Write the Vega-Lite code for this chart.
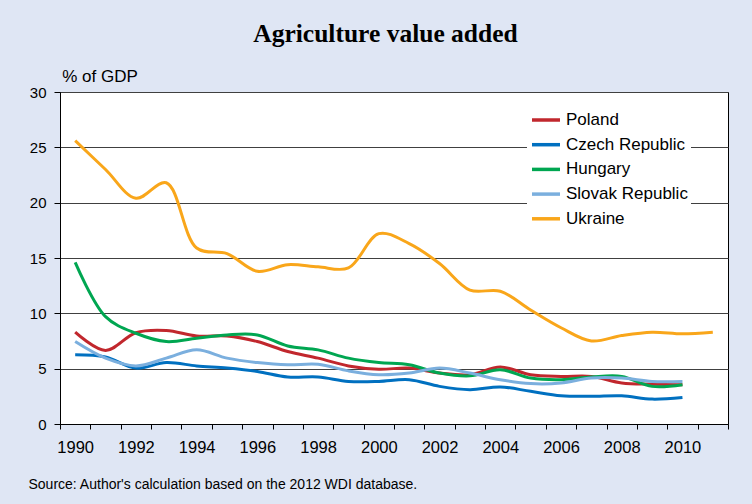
{
  "$schema": "https://vega.github.io/schema/vega-lite/v6.json",
  "autosize": "none",
  "width": 668,
  "height": 332,
  "padding": {"left": 60, "top": 92, "right": 24, "bottom": 80},
  "background": "#dfe6f4",
  "title": {
    "text": "Agriculture value added",
    "font": "Liberation Serif",
    "fontSize": 25.5,
    "fontWeight": "bold",
    "color": "#000000",
    "anchor": "middle",
    "frame": "group",
    "dx": -8.5,
    "offset": 20
  },
  "config": {
    "view": {"stroke": "#000000", "strokeWidth": 1, "fill": "#ffffff"},
    "font": "Liberation Sans"
  },
  "data": {
    "values": [
      {"year": 1990, "country": "Poland", "v": 8.3},
      {"year": 1991, "country": "Poland", "v": 6.65},
      {"year": 1992, "country": "Poland", "v": 8.25},
      {"year": 1993, "country": "Poland", "v": 8.45},
      {"year": 1994, "country": "Poland", "v": 7.95},
      {"year": 1995, "country": "Poland", "v": 7.95},
      {"year": 1996, "country": "Poland", "v": 7.45},
      {"year": 1997, "country": "Poland", "v": 6.55},
      {"year": 1998, "country": "Poland", "v": 5.95},
      {"year": 1999, "country": "Poland", "v": 5.25},
      {"year": 2000, "country": "Poland", "v": 4.95},
      {"year": 2001, "country": "Poland", "v": 5.05},
      {"year": 2002, "country": "Poland", "v": 4.6},
      {"year": 2003, "country": "Poland", "v": 4.45},
      {"year": 2004, "country": "Poland", "v": 5.15},
      {"year": 2005, "country": "Poland", "v": 4.45},
      {"year": 2006, "country": "Poland", "v": 4.3},
      {"year": 2007, "country": "Poland", "v": 4.3},
      {"year": 2008, "country": "Poland", "v": 3.7},
      {"year": 2009, "country": "Poland", "v": 3.6},
      {"year": 2010, "country": "Poland", "v": 3.55},

      {"year": 1990, "country": "Czech Republic", "v": 6.25},
      {"year": 1991, "country": "Czech Republic", "v": 6.05},
      {"year": 1992, "country": "Czech Republic", "v": 5.05},
      {"year": 1993, "country": "Czech Republic", "v": 5.55},
      {"year": 1994, "country": "Czech Republic", "v": 5.25},
      {"year": 1995, "country": "Czech Republic", "v": 5.05},
      {"year": 1996, "country": "Czech Republic", "v": 4.75},
      {"year": 1997, "country": "Czech Republic", "v": 4.25},
      {"year": 1998, "country": "Czech Republic", "v": 4.25},
      {"year": 1999, "country": "Czech Republic", "v": 3.85},
      {"year": 2000, "country": "Czech Republic", "v": 3.85},
      {"year": 2001, "country": "Czech Republic", "v": 4.0},
      {"year": 2002, "country": "Czech Republic", "v": 3.4},
      {"year": 2003, "country": "Czech Republic", "v": 3.1},
      {"year": 2004, "country": "Czech Republic", "v": 3.35},
      {"year": 2005, "country": "Czech Republic", "v": 2.95},
      {"year": 2006, "country": "Czech Republic", "v": 2.55},
      {"year": 2007, "country": "Czech Republic", "v": 2.5},
      {"year": 2008, "country": "Czech Republic", "v": 2.55},
      {"year": 2009, "country": "Czech Republic", "v": 2.25},
      {"year": 2010, "country": "Czech Republic", "v": 2.4},

      {"year": 1990, "country": "Hungary", "v": 14.6},
      {"year": 1991, "country": "Hungary", "v": 9.7},
      {"year": 1992, "country": "Hungary", "v": 8.2},
      {"year": 1993, "country": "Hungary", "v": 7.45},
      {"year": 1994, "country": "Hungary", "v": 7.75},
      {"year": 1995, "country": "Hungary", "v": 8.05},
      {"year": 1996, "country": "Hungary", "v": 8.05},
      {"year": 1997, "country": "Hungary", "v": 7.05},
      {"year": 1998, "country": "Hungary", "v": 6.7},
      {"year": 1999, "country": "Hungary", "v": 5.95},
      {"year": 2000, "country": "Hungary", "v": 5.55},
      {"year": 2001, "country": "Hungary", "v": 5.35},
      {"year": 2002, "country": "Hungary", "v": 4.6},
      {"year": 2003, "country": "Hungary", "v": 4.35},
      {"year": 2004, "country": "Hungary", "v": 4.9},
      {"year": 2005, "country": "Hungary", "v": 4.15},
      {"year": 2006, "country": "Hungary", "v": 4.0},
      {"year": 2007, "country": "Hungary", "v": 4.25},
      {"year": 2008, "country": "Hungary", "v": 4.3},
      {"year": 2009, "country": "Hungary", "v": 3.4},
      {"year": 2010, "country": "Hungary", "v": 3.55},

      {"year": 1990, "country": "Slovak Republic", "v": 7.45},
      {"year": 1991, "country": "Slovak Republic", "v": 5.95},
      {"year": 1992, "country": "Slovak Republic", "v": 5.25},
      {"year": 1993, "country": "Slovak Republic", "v": 5.95},
      {"year": 1994, "country": "Slovak Republic", "v": 6.7},
      {"year": 1995, "country": "Slovak Republic", "v": 5.95},
      {"year": 1996, "country": "Slovak Republic", "v": 5.55},
      {"year": 1997, "country": "Slovak Republic", "v": 5.35},
      {"year": 1998, "country": "Slovak Republic", "v": 5.4},
      {"year": 1999, "country": "Slovak Republic", "v": 4.8},
      {"year": 2000, "country": "Slovak Republic", "v": 4.45},
      {"year": 2001, "country": "Slovak Republic", "v": 4.6},
      {"year": 2002, "country": "Slovak Republic", "v": 5.05},
      {"year": 2003, "country": "Slovak Republic", "v": 4.6},
      {"year": 2004, "country": "Slovak Republic", "v": 4.0},
      {"year": 2005, "country": "Slovak Republic", "v": 3.65},
      {"year": 2006, "country": "Slovak Republic", "v": 3.7},
      {"year": 2007, "country": "Slovak Republic", "v": 4.15},
      {"year": 2008, "country": "Slovak Republic", "v": 4.15},
      {"year": 2009, "country": "Slovak Republic", "v": 3.85},
      {"year": 2010, "country": "Slovak Republic", "v": 3.85},

      {"year": 1990, "country": "Ukraine", "v": 25.6},
      {"year": 1991, "country": "Ukraine", "v": 23.0},
      {"year": 1992, "country": "Ukraine", "v": 20.4},
      {"year": 1993, "country": "Ukraine", "v": 21.8},
      {"year": 1994, "country": "Ukraine", "v": 15.9},
      {"year": 1995, "country": "Ukraine", "v": 15.4},
      {"year": 1996, "country": "Ukraine", "v": 13.8},
      {"year": 1997, "country": "Ukraine", "v": 14.4},
      {"year": 1998, "country": "Ukraine", "v": 14.2},
      {"year": 1999, "country": "Ukraine", "v": 14.1},
      {"year": 2000, "country": "Ukraine", "v": 17.2},
      {"year": 2001, "country": "Ukraine", "v": 16.3},
      {"year": 2002, "country": "Ukraine", "v": 14.5},
      {"year": 2003, "country": "Ukraine", "v": 12.1},
      {"year": 2004, "country": "Ukraine", "v": 12.0},
      {"year": 2005, "country": "Ukraine", "v": 10.3},
      {"year": 2006, "country": "Ukraine", "v": 8.7},
      {"year": 2007, "country": "Ukraine", "v": 7.5},
      {"year": 2008, "country": "Ukraine", "v": 8.0},
      {"year": 2009, "country": "Ukraine", "v": 8.3},
      {"year": 2010, "country": "Ukraine", "v": 8.15},
      {"year": 2011, "country": "Ukraine", "v": 8.3}
    ]
  },
  "mark": {"type": "line", "interpolate": "catmull-rom", "strokeWidth": 3},
  "encoding": {
    "x": {
      "field": "year",
      "type": "ordinal",
      "scale": {"type": "band", "paddingInner": 0, "paddingOuter": 0},
      "axis": {
        "title": "Source: Author's calculation based on the 2012 WDI database.",
        "titleX": -32,
        "titleY": 64,
        "titleAlign": "left",
        "titleAnchor": "start",
        "titleBaseline": "alphabetic",
        "titleFont": "Liberation Sans",
        "titleFontSize": 14,
        "titleFontWeight": "normal",
        "titleColor": "#000000",
        "tickBand": "extent",
        "labelExpr": "datum.value % 2 == 0 ? datum.label : ''",
        "labelAngle": 0,
        "labelOverlap": false,
        "labelFont": "Liberation Sans",
        "labelFontSize": 16.5,
        "labelColor": "#000000",
        "labelPadding": 10,
        "tickSize": 5,
        "tickColor": "#000000",
        "domainColor": "#000000",
        "grid": false
      }
    },
    "y": {
      "field": "v",
      "type": "quantitative",
      "scale": {"domain": [0, 30], "nice": false},
      "axis": {
        "title": "% of GDP",
        "titleX": 1.7,
        "titleY": -11,
        "titleAngle": 0,
        "titleAlign": "left",
        "titleAnchor": "start",
        "titleBaseline": "alphabetic",
        "titleFont": "Liberation Sans",
        "titleFontSize": 17,
        "titleFontWeight": "normal",
        "titleColor": "#000000",
        "values": [0, 5, 10, 15, 20, 25, 30],
        "labelFont": "Liberation Sans",
        "labelFontSize": 15,
        "labelColor": "#000000",
        "labelPadding": 8,
        "tickSize": 6,
        "tickColor": "#000000",
        "domainColor": "#000000",
        "grid": true,
        "gridColor": "#404040",
        "gridWidth": 1,
        "gridOpacity": 1
      }
    },
    "color": {
      "field": "country",
      "type": "nominal",
      "scale": {
        "domain": ["Poland", "Czech Republic", "Hungary", "Slovak Republic", "Ukraine"],
        "range": ["#c1272d", "#0070c0", "#00a651", "#7bafde", "#f9a61a"]
      },
      "legend": {
        "title": null,
        "orient": "none",
        "legendX": 467,
        "legendY": 9,
        "padding": 3,
        "fillColor": "#ffffff",
        "symbolType": "stroke",
        "symbolSize": 784,
        "symbolStrokeWidth": 3.5,
        "labelFont": "Liberation Sans",
        "labelFontSize": 17,
        "labelColor": "#000000",
        "labelOffset": 4,
        "rowPadding": 0.7
      }
    }
  }
}
